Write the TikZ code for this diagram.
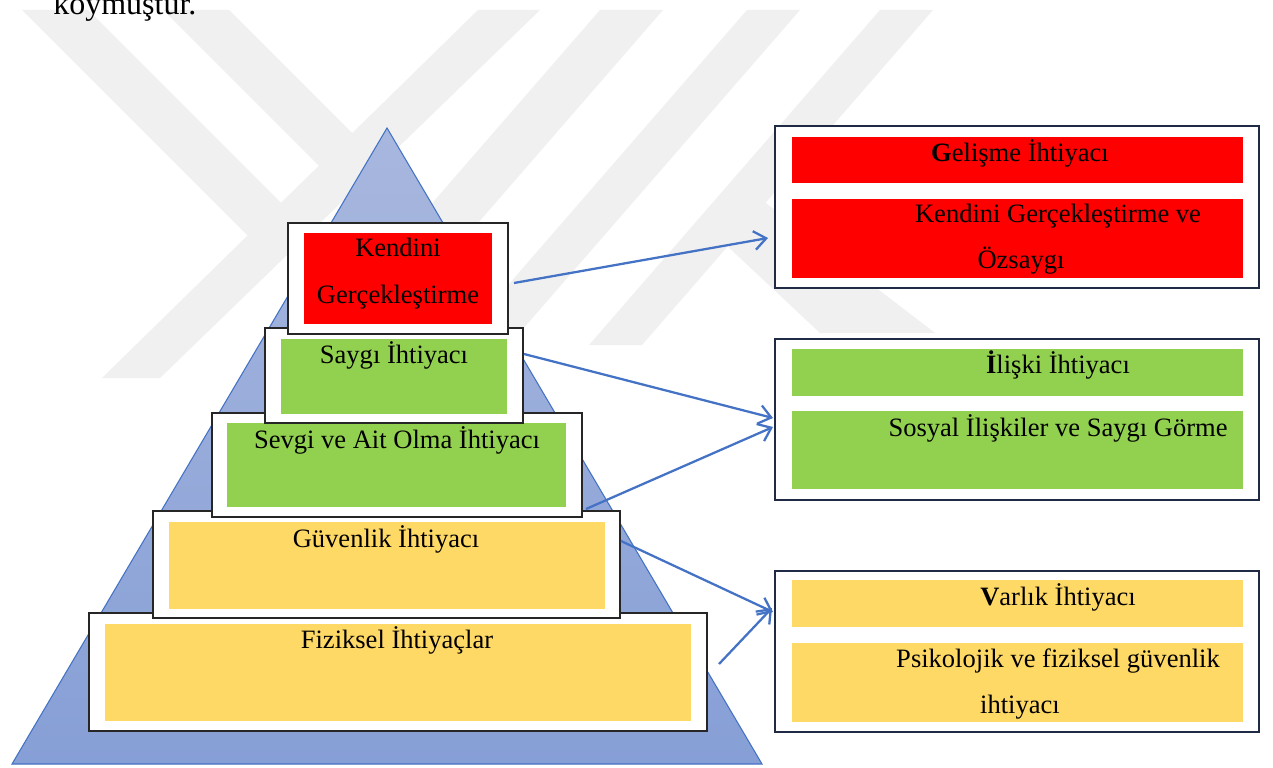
\documentclass[tikz,border=0pt]{standalone}
\usepackage{fontspec}
\setmainfont{Liberation Serif}
\usetikzlibrary{arrows.meta}
\definecolor{wm}{RGB}{240,240,240}
\definecolor{myred}{RGB}{255,0,0}
\definecolor{mygreen}{RGB}{146,208,80}
\definecolor{myyellow}{RGB}{255,217,102}
\definecolor{arrowblue}{RGB}{68,114,196}
\definecolor{pyrtop}{RGB}{168,183,222}
\definecolor{pyrbot}{RGB}{134,159,214}
\definecolor{navy}{RGB}{31,42,68}
\begin{document}
\begin{tikzpicture}[x=0.75pt,y=-0.75pt,
  pxbox/.style n args={4}{minimum width={(#3-#1)*0.75pt}, minimum height={(#4-#2)*0.75pt},
     anchor=north west, inner sep=0pt, outer sep=0pt, at={(#1,#2)}},
  outerbox/.style={draw=black!85, line width=1.2pt, fill=white},
  rightbox/.style={draw=navy, line width=1.5pt, fill=white},
  redfill/.style={fill=myred, draw=none},
  greenfill/.style={fill=mygreen, draw=none},
  yellowfill/.style={fill=myyellow, draw=none},
  lbl/.style={anchor=base, inner sep=0pt, font=\fontsize{19.9pt}{24pt}\selectfont},
  conn/.style={draw=arrowblue, line width=1.7pt, -{Straight Barb[length=9pt,width=14pt]}},
  band/.style={fill=wm, draw=none}]
\clip (0,0) rectangle (1273,767);
\useasboundingbox (0,0) rectangle (1273,767);
\fill[white] (0,0) rectangle (1273,767);

% watermark
\fill[band] (22,10) -- (88,10) -- (283,205) -- (249,237) -- cycle;
\fill[band] (163,10) -- (229,10) -- (355,136) -- (321,168) -- cycle;
\fill[band] (478,10) -- (540,10) -- (160,378) -- (102,378) -- cycle;
\fill[band] (600,10) -- (663,10) -- (385,330) -- (322,330) -- cycle;
\fill[band] (747,10) -- (800,10) -- (509,345) -- (456,345) -- cycle;
\fill[band] (880,10) -- (933,10) -- (642,345) -- (589,345) -- cycle;
\fill[band] (745,187) -- (708,228) -- (820,333) -- (935,333) -- cycle;

\node[anchor=base west, inner sep=0pt, font=\fontsize{24pt}{28pt}\selectfont] (koy) at (53,15) {koymuştur.};

% pyramid
\shade[top color=pyrtop, bottom color=pyrbot] (387,128) -- (762,764) -- (12,764) -- cycle;
\draw[arrowblue, line width=0.8pt] (387,128) -- (762,764) -- (12,764) -- cycle;

% level boxes (bottom to top)
\node[outerbox, pxbox={89}{613}{707}{731}] (fout) {};
\node[yellowfill, pxbox={105}{624}{691}{721}] (fin) {};
\node[lbl] (ftxt) at (397,648) {Fiziksel İhtiyaçlar};

\node[outerbox, pxbox={153}{511}{620}{618}] (gout) {};
\node[yellowfill, pxbox={169}{522}{605}{609}] (gin) {};
\node[lbl] (gtxt) at (386,547) {Güvenlik İhtiyacı};

\node[outerbox, pxbox={212}{413}{582}{517}] (sevout) {};
\node[greenfill, pxbox={227}{423}{566}{507}] (sevin) {};
\node[lbl] (sevtxt) at (397,448) {Sevgi ve Ait Olma İhtiyacı};

\node[outerbox, pxbox={265}{328}{523}{423}] (sayout) {};
\node[greenfill, pxbox={281}{339}{507}{414}] (sayin) {};
\node[lbl] (saytxt) at (394,363) {Saygı İhtiyacı};

\node[outerbox, pxbox={288}{223}{508}{334}] (kout) {};
\node[redfill, pxbox={304}{233}{492}{324}] (kin) {};
\node[lbl] (ktxt1) at (398,256) {Kendini};
\node[lbl] (ktxt2) at (398,303) {Gerçekleştirme};

% right boxes
\node[rightbox, pxbox={775}{126}{1259}{288}] (gelout) {};
\node[redfill, pxbox={792}{137}{1243}{183}] (gelin1) {};
\node[redfill, pxbox={792}{199}{1243}{278}] (gelin2) {};
\node[lbl] (geltxt) at (1020,161) {\textbf{G}elişme İhtiyacı};
\node[lbl] (geltxt2) at (1058,222) {Kendini Gerçekleştirme ve};
\node[lbl] (geltxt3) at (1021,268) {Özsaygı};

\node[rightbox, pxbox={775}{339}{1259}{500}] (ilout) {};
\node[greenfill, pxbox={792}{349}{1243}{396}] (ilin1) {};
\node[greenfill, pxbox={792}{411}{1243}{489}] (ilin2) {};
\node[lbl] (iltxt) at (1058,373) {\textbf{İ}lişki İhtiyacı};
\node[lbl] (iltxt2) at (1058,436) {Sosyal İlişkiler ve Saygı Görme};

\node[rightbox, pxbox={775}{571}{1259}{732}] (varout) {};
\node[yellowfill, pxbox={792}{580}{1243}{627}] (varin1) {};
\node[yellowfill, pxbox={792}{643}{1243}{722}] (varin2) {};
\node[lbl] (vartxt) at (1058,605) {\textbf{V}arlık İhtiyacı};
\node[lbl] (vartxt2) at (1058,667) {Psikolojik ve fiziksel güvenlik};
\node[lbl] (vartxt3) at (1020,713) {ihtiyacı};

% connectors
\coordinate (a1s) at (514,283);
\coordinate (a1e) at (768,238);
\coordinate (a2s) at (524,354);
\coordinate (a2e) at (773,418);
\coordinate (a3s) at (586,509);
\coordinate (a3e) at (773,427);
\coordinate (a4s) at (621,541);
\coordinate (a4e) at (773,612);
\coordinate (a5s) at (719,664);
\coordinate (a5e) at (772,608);
\draw[conn] (a1s) -- (a1e);
\draw[conn] (a2s) -- (a2e);
\draw[conn] (a3s) -- (a3e);
\draw[conn] (a4s) -- (a4e);
\draw[conn] (a5s) -- (a5e);
\end{tikzpicture}
\end{document}
